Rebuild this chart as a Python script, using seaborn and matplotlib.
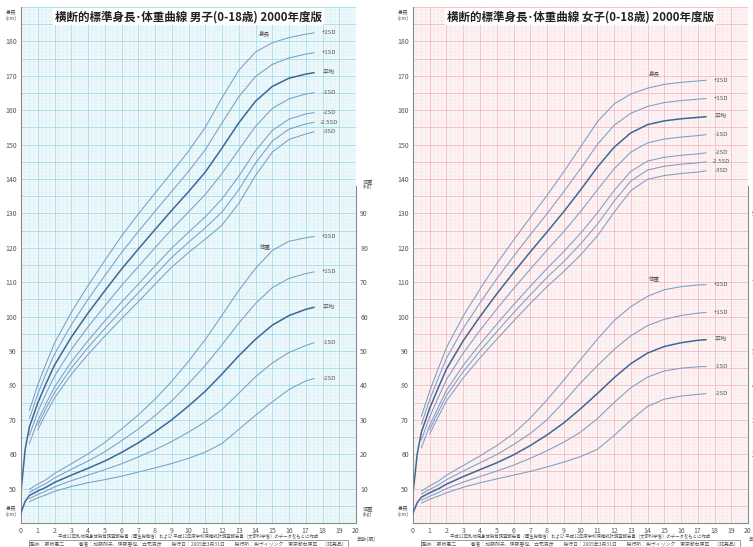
import matplotlib
matplotlib.use('Agg')
import matplotlib.pyplot as plt
import seaborn as sns
from matplotlib.ticker import MultipleLocator, FuncFormatter

# ages (years); SD curves start later than the mean curve
age_all = [0, 0.25, 0.5, 1, 1.5, 2, 3, 4, 5, 6, 7, 8, 9, 10, 11, 12, 13, 14, 15, 16, 17, 17.5]
age_sd = age_all[2:]
age_low = age_all[3:]

# ---- boys height (cm)
boy_h_mean = [49.0, 61.5, 67.9, 74.9, 80.6, 85.9, 94.0, 101.0, 107.5, 113.8, 119.6, 125.3, 130.9, 136.3,
              142.0, 149.0, 156.3, 162.6, 166.9, 169.3, 170.5, 170.9]
boy_h_p2 = [72.7, 80.1, 86.4, 92.3, 101.2, 109.0, 116.3, 123.4, 129.8, 135.9, 141.9, 148.1, 155.0, 163.6,
            171.6, 176.9, 179.6, 181.1, 182.1, 182.5]
boy_h_p1 = [70.3, 77.5, 83.5, 89.1, 97.6, 105.0, 111.9, 118.6, 124.7, 130.6, 136.4, 142.2, 148.5, 156.3,
            163.9, 169.8, 173.3, 175.2, 176.3, 176.7]
boy_h_m1 = [65.5, 72.3, 77.7, 82.7, 90.4, 97.0, 103.1, 109.0, 114.5, 120.0, 125.4, 130.4, 135.5, 141.6,
            148.5, 155.3, 160.5, 163.3, 164.7, 165.1]
boy_h_m2 = [63.1, 69.7, 74.8, 79.5, 86.8, 93.0, 98.7, 104.2, 109.4, 114.7, 119.9, 124.5, 129.0, 134.2,
            140.8, 148.2, 154.1, 157.4, 158.9, 159.3]
boy_h_m25 = [68.4, 73.4, 77.9, 85.0, 91.0, 96.5, 101.8, 106.9, 112.1, 117.2, 121.6, 125.8, 130.4, 136.9,
             144.6, 151.0, 154.5, 156.0, 156.5]
boy_h_m3 = [67.1, 71.9, 76.3, 83.2, 89.0, 94.3, 99.4, 104.3, 109.4, 114.4, 118.6, 122.5, 126.6, 132.9,
            141.0, 147.8, 151.5, 153.1, 153.7]

# ---- boys weight (kg)
boy_w_mean = [3.0, 6.3, 8.0, 9.3, 10.4, 11.8, 13.9, 15.9, 18.0, 20.5, 23.3, 26.5, 30.0, 34.0, 38.3, 43.3,
              48.6, 53.4, 57.5, 60.3, 62.1, 62.7]
boy_w_p2 = [9.8, 11.3, 12.6, 14.4, 17.2, 20.1, 23.4, 27.3, 31.4, 36.0, 41.2, 47.0, 53.3, 60.4, 67.6, 74.0,
            79.2, 81.9, 82.9, 83.3]
boy_w_p1 = [8.9, 10.3, 11.5, 13.1, 15.6, 18.0, 20.7, 23.9, 27.3, 31.2, 35.5, 40.5, 45.8, 51.8, 58.1, 63.8,
            68.4, 71.1, 72.5, 73.0]
boy_w_m1 = [7.1, 8.3, 9.3, 10.5, 12.3, 13.9, 15.5, 17.2, 19.2, 21.3, 23.7, 26.4, 29.4, 33.0, 37.7, 42.5,
            46.5, 49.6, 51.6, 52.4]
boy_w_m2 = [6.2, 7.3, 8.2, 9.2, 10.6, 11.7, 12.6, 13.6, 14.8, 16.0, 17.3, 18.8, 20.6, 23.1, 27.2, 31.3,
            35.2, 38.8, 41.3, 42.0]

# ---- girls height (cm)
girl_h_mean = [48.5, 60.0, 66.4, 73.4, 79.2, 84.8, 93.0, 100.0, 106.6, 112.8, 118.8, 124.6, 130.5, 136.8,
               143.4, 149.2, 153.4, 155.8, 156.9, 157.5, 157.9, 158.1]
girl_h_p2 = [71.0, 78.4, 84.8, 91.0, 100.2, 108.0, 115.4, 122.2, 128.8, 135.2, 142.1, 149.3, 156.6, 161.8,
             164.7, 166.4, 167.5, 168.1, 168.5, 168.7]
girl_h_p1 = [68.7, 75.9, 82.0, 87.9, 96.6, 104.0, 111.0, 117.5, 123.8, 129.9, 136.3, 143.0, 150.0, 155.6,
             159.1, 161.1, 162.2, 162.8, 163.2, 163.4]
girl_h_m1 = [64.1, 70.9, 76.4, 81.7, 89.4, 96.0, 102.2, 108.1, 113.8, 119.3, 124.7, 130.5, 136.8, 142.9,
             147.8, 150.5, 151.6, 152.2, 152.6, 152.9]
girl_h_m2 = [61.8, 68.4, 73.6, 78.6, 85.8, 92.0, 97.8, 103.4, 108.8, 114.0, 118.9, 124.2, 130.1, 136.6,
             142.2, 145.2, 146.3, 146.9, 147.3, 147.6]
girl_h_m25 = [67.2, 72.2, 77.1, 84.0, 90.0, 95.6, 101.1, 106.3, 111.4, 116.0, 121.1, 126.8, 133.5, 139.4,
              142.6, 143.7, 144.3, 144.7, 145.0]
girl_h_m3 = [65.9, 70.8, 75.5, 82.2, 88.0, 93.4, 98.7, 103.8, 108.7, 113.1, 117.9, 123.4, 130.3, 136.6,
             139.9, 141.0, 141.6, 142.0, 142.4]

# ---- girls weight (kg)
girl_w_mean = [2.9, 5.9, 7.5, 8.8, 9.9, 11.3, 13.5, 15.5, 17.5, 19.8, 22.5, 25.6, 29.1, 33.2, 37.6, 42.2,
               46.3, 49.4, 51.3, 52.4, 53.1, 53.3]
girl_w_p2 = [9.3, 10.8, 12.1, 13.9, 16.7, 19.5, 22.5, 26.0, 30.5, 35.8, 41.5, 47.5, 53.4, 58.8, 62.9, 65.9,
             67.8, 68.7, 69.2, 69.3]
girl_w_p1 = [8.4, 9.8, 11.0, 12.6, 15.1, 17.5, 19.9, 22.8, 26.0, 30.0, 35.2, 40.7, 45.7, 50.4, 54.4, 57.4,
             59.2, 60.3, 61.0, 61.2]
girl_w_m1 = [6.6, 7.8, 8.8, 10.0, 11.9, 13.5, 15.1, 16.8, 18.8, 21.0, 23.5, 26.4, 30.3, 35.0, 39.3, 42.4,
             44.2, 45.0, 45.4, 45.5]
girl_w_m2 = [5.8, 6.9, 7.8, 8.8, 10.4, 11.7, 12.8, 13.9, 15.0, 16.3, 17.7, 19.3, 21.4, 25.4, 29.9, 33.9,
             36.0, 36.9, 37.4, 37.6]

sns.set_style('white')
plt.rcParams['font.family'] = ['Noto Sans CJK JP', 'DejaVu Sans']

W, H = 753, 547
fig = plt.figure(figsize=(W / 100, H / 100), dpi=100)

LINE = '#7d9dc5'
MEAN = '#3d6797'
TXT = '#555555'

footer1 = ('平成12年乳幼児身体発育調査報告書（厚生労働省）および 平成12年度学校保健統計調査報告書'
           '（文部科学省）のデータをもとに作成')
footer2 = ('監修：藤枝憲二　　　著者：加藤則子、伊藤善也、立花克彦　　発行日：2005年3月31日　　'
           '発行所：㈱ヴィリンク　東京都台東区　（非売品）')


def draw_panel(left_px, title, bg, grid_major, grid_minor, h_curves, w_curves, h_lab, w_lab):
    ax = fig.add_axes([left_px / W, 24 / H, 335 / W, 516 / H])
    ax.set_xlim(0, 20)
    ax.set_ylim(40, 190)
    ax.set_facecolor(bg)
    ax.xaxis.set_major_locator(MultipleLocator(1))
    ax.xaxis.set_minor_locator(MultipleLocator(0.25))
    ax.yaxis.set_major_locator(MultipleLocator(5))
    ax.yaxis.set_minor_locator(MultipleLocator(1))
    ax.grid(which='major', color=grid_major, lw=0.55)
    ax.grid(which='minor', color=grid_minor, lw=0.3)
    ax.set_axisbelow(True)
    ax.yaxis.set_major_formatter(FuncFormatter(
        lambda v, p: f'{v:.0f}' if (v % 10 == 0 and 50 <= v <= 180) else ''))
    ax.tick_params(which='both', length=0, labelsize=5, labelcolor=TXT, pad=3)
    for s in ['top', 'right']:
        ax.spines[s].set_visible(False)
    for s in ['left', 'bottom']:
        ax.spines[s].set_color('#8a8a8a')
        ax.spines[s].set_linewidth(0.8)

    ax2 = ax.twinx()
    ax2.set_ylim(0, 150)
    ax2.set_yticks(range(10, 100, 10))
    ax2.tick_params(length=0, labelsize=5, labelcolor=TXT, pad=3)
    for s in ['top', 'left', 'bottom']:
        ax2.spines[s].set_visible(False)
    ax2.spines['right'].set_color('#8a8a8a')
    ax2.spines['right'].set_linewidth(0.8)
    ax2.spines['right'].set_bounds(0, 98)

    for (x, y, lab) in h_curves:
        is_mean = lab == '平均'
        sns.lineplot(x=x, y=y, ax=ax, estimator=None, color=MEAN if is_mean else LINE,
                     lw=1.1 if is_mean else 0.75)
        ax.text(18.4, y[-1], lab, fontsize=4.3, color=TXT, ha='center', va='center')
    for (x, y, lab) in w_curves:
        is_mean = lab == '平均'
        sns.lineplot(x=x, y=y, ax=ax2, estimator=None, color=MEAN if is_mean else LINE,
                     lw=1.1 if is_mean else 0.75)
        ax2.text(18.4, y[-1], lab, fontsize=4.3, color=TXT, ha='center', va='center')
    ax.set_xlabel('')
    ax.set_ylabel('')
    ax2.set_ylabel('')

    ax.text(h_lab[0], h_lab[1], '身長', fontsize=4, color=TXT, ha='center', va='center')
    ax2.text(w_lab[0], w_lab[1], '体重', fontsize=4, color=TXT, ha='center', va='center')

    ax.text(10, 187.2, title, fontsize=8.3, fontweight='bold', color='#222222', ha='center',
            va='center', bbox=dict(fc='white', ec='none', pad=1.5))

    ax.text(-0.62, 187.6, '身長\n(cm)', fontsize=3.8, color=TXT, ha='center', va='center',
            linespacing=1.0, clip_on=False)
    ax.text(-0.62, 43.3, '身長\n(cm)', fontsize=3.8, color=TXT, ha='center', va='center',
            linespacing=1.0, clip_on=False)
    ax2.text(20.4, 98.5, '体重\n(kg)', fontsize=3.8, color=TXT, ha='left', va='center',
             linespacing=1.0, clip_on=False)
    ax2.text(20.4, 3.3, '体重\n(kg)', fontsize=3.8, color=TXT, ha='left', va='center',
             linespacing=1.0, clip_on=False)
    ax.text(20.05, 35.4, '年齢(歳)', fontsize=3.8, color=TXT, ha='left', va='center', clip_on=False)
    ax.text(10, 36.1, footer1, fontsize=3.2, color=TXT, ha='center', va='center', clip_on=False)
    ax.text(10.0, 33.7, footer2, fontsize=3.5, color=TXT, ha='center', va='center', clip_on=False,
            bbox=dict(fc='white', ec='#777777', lw=0.5, pad=1.2))
    return ax


boy_h = [(age_sd, boy_h_p2, '+2SD'), (age_sd, boy_h_p1, '+1SD'), (age_all, boy_h_mean, '平均'),
         (age_sd, boy_h_m1, '-1SD'), (age_sd, boy_h_m2, '-2SD'), (age_low, boy_h_m25, '-2.5SD'),
         (age_low, boy_h_m3, '-3SD')]
boy_w = [(age_sd, boy_w_p2, '+2SD'), (age_sd, boy_w_p1, '+1SD'), (age_all, boy_w_mean, '平均'),
         (age_sd, boy_w_m1, '-1SD'), (age_sd, boy_w_m2, '-2SD')]
girl_h = [(age_sd, girl_h_p2, '+2SD'), (age_sd, girl_h_p1, '+1SD'), (age_all, girl_h_mean, '平均'),
          (age_sd, girl_h_m1, '-1SD'), (age_sd, girl_h_m2, '-2SD'), (age_low, girl_h_m25, '-2.5SD'),
          (age_low, girl_h_m3, '-3SD')]
girl_w = [(age_sd, girl_w_p2, '+2SD'), (age_sd, girl_w_p1, '+1SD'), (age_all, girl_w_mean, '平均'),
          (age_sd, girl_w_m1, '-1SD'), (age_sd, girl_w_m2, '-2SD')]

draw_panel(21, '横断的標準身長･体重曲線 男子(0-18歳) 2000年度版', '#eef9fc', '#9dd8ec', '#d3eef7',
           boy_h, boy_w, (14.5, 182.0), (14.6, 80.5))
draw_panel(413, '横断的標準身長･体重曲線 女子(0-18歳) 2000年度版', '#fdf4f5', '#f4b3bd', '#fadce0',
           girl_h, girl_w, (14.4, 170.6), (14.4, 71.0))

fig.savefig('out.png', dpi=100)
